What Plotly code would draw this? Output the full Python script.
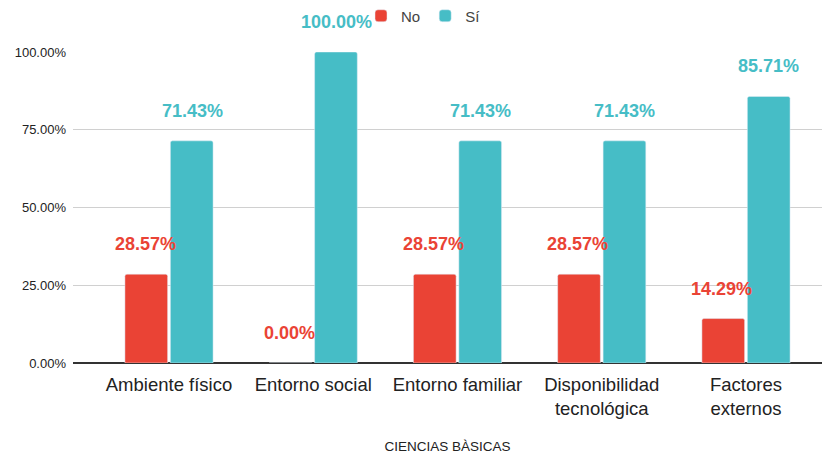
import plotly.graph_objects as go

categories = ["Ambiente físico", "Entorno social", "Entorno familiar",
              "Disponibilidad<br>tecnológica", "Factores<br>externos"]
no_vals = [28.57, 0.00, 28.57, 28.57, 14.29]
si_vals = [71.43, 100.00, 71.43, 71.43, 85.71]
y_ticks = [0, 25, 50, 75, 100]
y_tick_labels = ["0.00%", "25.00%", "50.00%", "75.00%", "100.00%"]
x_title = "CIENCIAS BÀSICAS"

RED = "#EA4335"
TEAL = "#46BDC6"
FONT = "Arial, Liberation Sans, sans-serif"

W, H = 826, 446  # page body margin of 8px makes it fill 834x454

fig = go.Figure()
fig.add_bar(x=categories, y=no_vals, name="No", marker=dict(color=RED, cornerradius=2))
fig.add_bar(x=categories, y=si_vals, name="Sí", marker=dict(color=TEAL, cornerradius=2))

annotations = []
for i, cat in enumerate(categories):
    for vals, color, shift in ((no_vals, RED, -24), (si_vals, TEAL, 23)):
        annotations.append(dict(
            x=cat, y=vals[i], xref="x", yref="y", text=f"{vals[i]:.2f}%",
            showarrow=False, xshift=shift, yshift=30,
            font=dict(family=FONT, size=18, color=color, weight="bold"),
        ))

fig.update_layout(
    width=W, height=H,
    margin=dict(l=65, r=12, t=44, b=91, autoexpand=False),
    paper_bgcolor="white", plot_bgcolor="white",
    barmode="group", bargap=0.37, bargroupgap=0.06,
    font=dict(family=FONT, color="#222222"),
    annotations=annotations,
    showlegend=True,
    legend=dict(orientation="h", x=353 / W, xanchor="left", xref="container",
                y=1 - 8 / H, yanchor="middle", yref="container",
                font=dict(size=15, color="#444444"),
                itemwidth=30, traceorder="normal"),
    xaxis=dict(
        range=[-0.6655, 4.527], showgrid=False, showline=False, ticks="",
        tickfont=dict(size=18.5, color="#222222"), ticklabelstandoff=8,
        title=dict(text=x_title, font=dict(size=13.5, color="#222222"), standoff=26),
    ),
    yaxis=dict(
        range=[0, 100], tickvals=y_ticks, ticktext=y_tick_labels,
        showgrid=True, gridcolor="#D0D0D0", gridwidth=1,
        zeroline=True, zerolinecolor="#333333", zerolinewidth=1.5,
        tickfont=dict(size=13, color="#222222"), ticks="", ticklabelstandoff=6,
    ),
)

fig.write_html("out.html")
